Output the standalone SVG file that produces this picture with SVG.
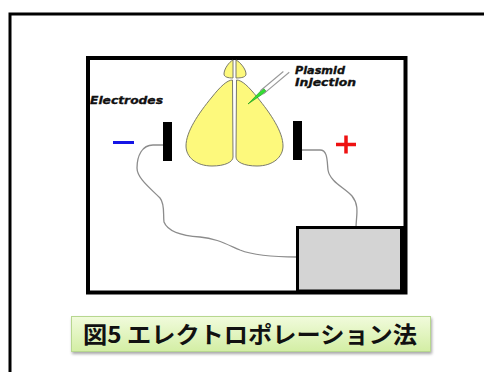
<svg xmlns="http://www.w3.org/2000/svg" width="484" height="372" viewBox="0 0 484 372">
  <defs>
    <linearGradient id="capFill" x1="0" y1="0" x2="0" y2="1">
      <stop offset="0" stop-color="#f1fbdc"/>
      <stop offset="1" stop-color="#d3eea4"/>
    </linearGradient>
    <filter id="capShadow" x="-5%" y="-20%" width="110%" height="160%">
      <feGaussianBlur in="SourceAlpha" stdDeviation="1.5"/>
      <feOffset dx="1" dy="2" result="b"/>
      <feComponentTransfer><feFuncA type="linear" slope="0.35"/></feComponentTransfer>
      <feMerge><feMergeNode/><feMergeNode in="SourceGraphic"/></feMerge>
    </filter>
  </defs>
  <style>
    .lobe { fill: #fdf97c; stroke: #7a7a6a; stroke-width: 1; }
    .wire { fill: none; stroke: #8c8c8c; stroke-width: 1.3; }
    .label { font-family: "DejaVu Sans", sans-serif; font-weight: bold; font-style: italic; fill: #111; stroke: #111; stroke-width: 0.35; }
    .cap { font-family: "Noto Sans CJK JP", sans-serif; font-weight: bold; fill: #111; }
  </style>

  <rect width="484" height="372" fill="#ffffff"/>

  <!-- outer frame (runs off the right and bottom edges) -->
  <path d="M10,380 L10,14 L490,14" fill="none" stroke="#000" stroke-width="3"/>

  <!-- chamber -->
  <g id="chamber">
    <rect x="88" y="58" width="317.5" height="234.5" fill="#fff" stroke="#000" stroke-width="4"/>
  </g>

  <!-- connectors: electrode wires -->
  <g id="wires">
    <path class="wire" d="M163,145 L153,145 C142,145 137,156 137,168 C137,178 150,188 160,198 C165,204 163,214 164,222 C168,232 185,236 200,237 C215,238 226,244 240,250 C255,256 275,257 297,257"/>
    <path class="wire" d="M302,150 L320,150 C328,150 327,162 328,170 C330,182 345,188 352,196 C360,206 356,216 356,228"/>
  </g>

  <!-- power supply -->
  <g id="power-supply">
    <rect x="297.5" y="227.5" width="104" height="63.5" fill="#d4d4d4" stroke="#000" stroke-width="3"/>
    <rect x="401" y="226" width="6" height="68" fill="#000"/>
  </g>

  <!-- brain -->
  <g id="brain">
    <path class="lobe" d="M233,60 C229,62 224,69 224,74 C224,77 228,78 233,78 Z"/>
    <path class="lobe" d="M236,60 C240,62 246,69 246,74 C246,77 242,78 236,78 Z"/>
    <path class="lobe" d="M232.5,80 L233,157 C233,162 225,166 212,166 C196,166 186,157 186,146 C186,132 198,114 212,97 C220,87 227,80 232.5,80 Z"/>
    <path class="lobe" d="M236.5,80 L236,157 C236,162 244,166 257,166 C273,166 283,157 283,146 C283,132 271,114 257,97 C249,87 242,80 236.5,80 Z"/>
  </g>

  <!-- injection pipette -->
  <g id="pipette" transform="translate(248,104) rotate(-40)">
    <path d="M0,0 L22,-2.2 L22,2.2 Z" fill="#33dd33" stroke="#1a9a1a" stroke-width="0.6"/>
    <path d="M18,-2.2 L48,-2.2 M18,2.2 L52,2.2" fill="none" stroke="#9a9a9a" stroke-width="1.1"/>
  </g>
  <g id="injection-label">
    <text class="label" x="295" y="74" font-size="11" textLength="50" lengthAdjust="spacingAndGlyphs">Plasmid</text>
    <text class="label" x="295" y="85.5" font-size="11" textLength="61" lengthAdjust="spacingAndGlyphs">Injection</text>
  </g>

  <!-- electrodes -->
  <g id="electrode-neg">
    <rect x="163" y="122" width="9" height="39" fill="#000"/>
    <rect x="113" y="141" width="21" height="3" fill="#1515e6"/>
  </g>
  <g id="electrode-pos">
    <rect x="293" y="121" width="9" height="39" fill="#000"/>
    <path d="M336,144.5 L356,144.5 M346,135.5 L346,153.5" stroke="#ee1111" stroke-width="3.5"/>
  </g>
  <g id="electrodes-label">
    <text class="label" x="90" y="104" font-size="11" textLength="73" lengthAdjust="spacingAndGlyphs">Electrodes</text>
  </g>

  <!-- caption -->
  <g id="caption">
    <rect x="71.5" y="316.5" width="359" height="35" fill="url(#capFill)" stroke="#b7d78f" stroke-width="1" filter="url(#capShadow)"/>
    <text class="cap" x="83" y="343" font-size="23" textLength="334" lengthAdjust="spacingAndGlyphs">図5 エレクトロポレーション法</text>
  </g>
</svg>
